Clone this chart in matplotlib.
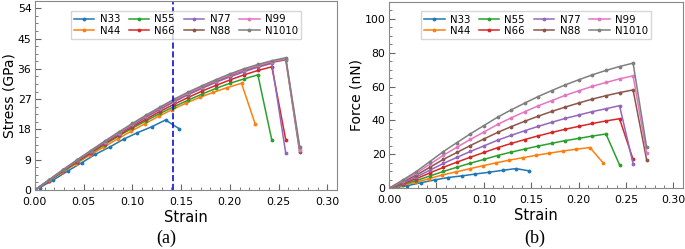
# -*- coding: utf-8 -*-

import matplotlib
matplotlib.use('Agg')
import matplotlib.pyplot as plt
from matplotlib.ticker import AutoMinorLocator

labels = ['N33', 'N44', 'N55', 'N66', 'N77', 'N88', 'N99', 'N1010']
colors = ['#1f77b4', '#ff7f0e', '#2ca02c', '#d62728',
          '#9467bd', '#8c564b', '#e377c2', '#7f7f7f']

# strain grids (N33 and N44 sit on their own grids)
strain = [0.000, 0.0143, 0.0286, 0.0429, 0.0572, 0.0715, 0.0858, 0.1001,
          0.1144, 0.1287, 0.1430, 0.1573, 0.1716, 0.1859, 0.2002, 0.2145,
          0.2288, 0.2431, 0.2574, 0.2717]
strain_n33 = [0.005, 0.019, 0.034, 0.048, 0.062, 0.077, 0.091, 0.105,
              0.120, 0.134, 0.148]
strain_n44 = [0.000, 0.014, 0.028, 0.042, 0.056, 0.071, 0.085, 0.099,
              0.113, 0.127, 0.141, 0.155, 0.169, 0.183, 0.197, 0.212, 0.226]

# (a) stress, GPa
stress_n33 = [0.7, 3.0, 5.7, 8.1, 10.6, 12.8, 15.1, 17.0, 18.8, 20.8, 18.2]
stress_n44 = [0, 2.6, 5.2, 7.8, 10.3, 12.8, 15.2, 17.5, 19.7, 21.9, 23.9,
              25.8, 27.5, 29.0, 30.4, 31.7, 19.6]
stress_n55 = [0, 2.7, 5.5, 8.2, 10.9, 13.5, 16.0, 18.4, 20.6, 22.8, 24.8,
              26.7, 28.5, 30.2, 31.7, 33.0, 34.2, 14.8]
stress_n66 = [0, 2.8, 5.6, 8.4, 11.1, 13.8, 16.3, 18.8, 21.1, 23.4, 25.5,
              27.5, 29.4, 31.1, 32.7, 34.2, 35.5, 36.6, 14.9]
stress_n77 = [0, 2.9, 5.8, 8.6, 11.4, 14.1, 16.7, 19.2, 21.7, 24.0, 26.2,
              28.3, 30.2, 32.0, 33.6, 35.1, 36.5, 37.6, 10.9]
stress_n88 = [0, 2.9, 5.8, 8.7, 11.5, 14.3, 16.9, 19.4, 21.9, 24.3, 26.5,
              28.6, 30.5, 32.3, 34.0, 35.5, 36.8, 37.9, 38.7, 11.2]
stress_n99 = [0, 2.9, 5.9, 8.8, 11.6, 14.4, 17.0, 19.6, 22.1, 24.5, 26.7,
              28.8, 30.7, 32.5, 34.2, 35.7, 37.0, 38.1, 39.0, 12.0]
stress_n1010 = [0, 3.0, 6.0, 8.9, 11.7, 14.5, 17.2, 19.8, 22.3, 24.7, 27.0,
                29.1, 31.0, 32.8, 34.5, 36.0, 37.3, 38.4, 39.3, 12.9]

# (b) force, nN
force_n33 = [0.3, 1.5, 3.3, 4.9, 6.3, 7.3, 8.4, 9.4, 10.6, 11.6, 10.2]
force_n44 = [0, 1.7, 3.5, 5.6, 7.8, 9.7, 11.5, 13.3, 15.0, 16.6, 18.0,
             19.4, 20.7, 21.9, 23.0, 24.0, 14.8]
force_n55 = [0, 2.2, 4.5, 7.2, 9.9, 12.4, 14.8, 17.0, 19.3, 21.3, 23.1,
             24.9, 26.5, 28.1, 29.4, 30.8, 32.0, 13.8]
force_n66 = [0, 2.7, 5.6, 9.0, 12.3, 15.4, 18.3, 21.1, 23.9, 26.4, 28.7,
             30.9, 32.9, 34.8, 36.5, 38.2, 39.7, 41.0, 17.0]
force_n77 = [0, 3.2, 6.6, 10.6, 14.6, 18.2, 21.7, 25.0, 28.3, 31.2, 33.9,
             36.5, 38.9, 41.2, 43.2, 45.2, 46.9, 48.7, 14.5]
force_n88 = [0, 3.8, 7.7, 12.3, 17.0, 21.1, 25.2, 29.1, 32.9, 36.3, 39.5,
             42.5, 45.3, 47.9, 50.3, 52.6, 54.6, 56.4, 58.0, 16.7]
force_n99 = [0, 4.3, 8.8, 14.1, 19.4, 24.2, 28.8, 33.2, 37.6, 41.5, 45.1,
             48.6, 51.7, 54.8, 57.5, 60.1, 62.4, 64.5, 66.3, 20.7]
force_n1010 = [0, 4.8, 9.8, 15.7, 21.6, 26.9, 32.1, 37.0, 41.9, 46.2, 50.2,
               54.1, 57.6, 61.0, 64.0, 66.9, 69.5, 71.8, 73.8, 24.2]

stress = [stress_n33, stress_n44, stress_n55, stress_n66,
          stress_n77, stress_n88, stress_n99, stress_n1010]
force = [force_n33, force_n44, force_n55, force_n66,
         force_n77, force_n88, force_n99, force_n1010]

dashed_strain = 0.142


def x_for(i, n):
    if i == 0:
        return strain_n33
    if i == 1:
        return strain_n44
    return strain[:n]


def style_axes(ax, ylabel, ymax, yticks):
    ax.set_xlim(0, 0.31)
    ax.set_ylim(0, ymax)
    ax.set_xticks([0.0, 0.05, 0.10, 0.15, 0.20, 0.25, 0.30])
    ax.set_xticklabels(['0.00', '0.05', '0.10', '0.15', '0.20', '0.25', '0.30'])
    ax.set_yticks(yticks)
    ax.xaxis.set_minor_locator(AutoMinorLocator(5))
    ax.yaxis.set_minor_locator(AutoMinorLocator(4))
    ax.tick_params(which='both', direction='in', color='#666666',
                   labelsize=7.8)
    ax.tick_params(axis='x', pad=5)
    ax.tick_params(axis='y', pad=2.5)
    ax.tick_params(which='major', length=4)
    ax.tick_params(which='minor', length=2)
    for sp in ax.spines.values():
        sp.set_color('#888888')
        sp.set_linewidth(0.8)
    ax.set_xlabel('Strain', fontsize=10.5, labelpad=2)
    ax.set_ylabel(ylabel, fontsize=10, labelpad=1)
    ax.legend(ncol=4, loc='upper center', fontsize=7.3, frameon=True,
              fancybox=False, edgecolor='#cccccc', borderpad=0.3,
              labelspacing=0.15, columnspacing=0.9, handlelength=2.0,
              handletextpad=0.5, bbox_to_anchor=(0.5, 0.975))


fig = plt.figure(figsize=(6.85, 2.49), dpi=100)
ax1 = fig.add_axes([0.051, 0.237, 0.441, 0.757])
ax2 = fig.add_axes([0.568, 0.244, 0.429, 0.749])

for i, lab in enumerate(labels):
    ax1.plot(x_for(i, len(stress[i])), stress[i], '.-', color=colors[i],
             lw=1.1, ms=3.5, label=lab)
    ax2.plot(x_for(i, len(force[i])), force[i], '.-', color=colors[i],
             lw=1.1, ms=3.5, label=lab)

ax1.axvline(dashed_strain, color='#1010d0', ls='--', lw=1.2)

style_axes(ax1, 'Stress (GPa)', 56, [0, 9, 18, 27, 36, 45, 54])
style_axes(ax2, 'Force (nN)', 110, [0, 20, 40, 60, 80, 100])

fig.text(0.243, 0.042, '(a)', ha='center', va='center', fontsize=13,
         family='Liberation Serif')
fig.text(0.781, 0.042, '(b)', ha='center', va='center', fontsize=13,
         family='Liberation Serif')

fig.savefig('out.png', dpi=100)
